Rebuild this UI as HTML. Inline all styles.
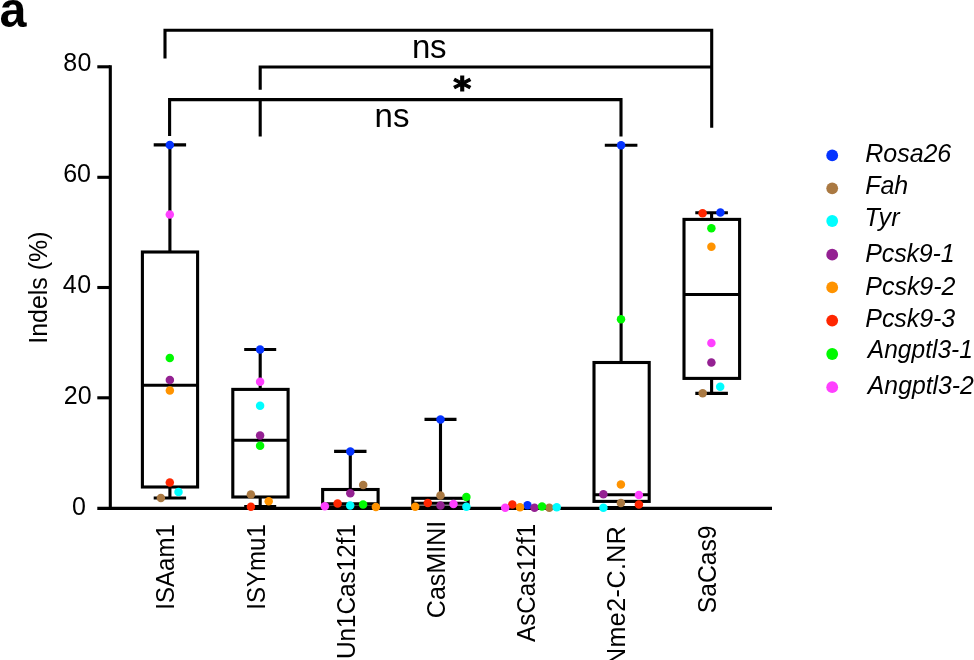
<!DOCTYPE html>
<html lang="en"><head><meta charset="utf-8"><title>Indels box plot</title>
<style>html,body{margin:0;padding:0;background:#fff;}body{width:974px;height:660px;overflow:hidden;}svg{display:block;will-change:transform;}text{font-family:"Liberation Sans",Arial,Helvetica,sans-serif;fill:#000;}.ln{stroke:#000;stroke-width:3.1;fill:none;stroke-linecap:butt;stroke-linejoin:miter;}.it{font-style:italic;}</style></head><body>
<svg width="974" height="660" viewBox="0 0 974 660">
<rect x="0" y="0" width="974" height="660" fill="#fff"/>
<text transform="translate(-0.6 26.6) scale(0.97 1)" x="0" y="0" font-size="50" font-weight="bold">a</text>
<path class="ln" d="M110.30 65.25 V508.40"/>
<path class="ln" style="stroke-width:3.2" d="M97.3 508.40 H772"/>
<path class="ln" d="M97.3 66.80 H110.30"/>
<path class="ln" d="M97.3 177.30 H110.30"/>
<path class="ln" d="M97.3 287.50 H110.30"/>
<path class="ln" d="M97.3 397.80 H110.30"/>
<path class="ln" d="M165.0 58.4 V30.3 H711.7 V127.8"/>
<path class="ln" d="M260.2 89.7 V67.0 H711.7"/>
<path class="ln" d="M260.2 99.4 V136.5"/>
<path class="ln" d="M169.6 136 V99.6 H621.0 V136.6"/>
<text transform="translate(462.2 83.6) scale(1.04 0.95)" x="0" y="16.6" font-size="33" font-weight="bold" text-anchor="middle" stroke="#000" stroke-width="1.2" style="font-family:'DejaVu Sans',sans-serif">*</text>
<path class="ln" d="M169.90 144.90 V252.00 M169.90 487.00 V498.00"/>
<path class="ln" d="M153.70 144.90 H186.10 M153.70 498.00 H186.10"/>
<rect class="ln" x="142.40" y="252.00" width="55.20" height="235.00"/>
<path class="ln" d="M142.40 385.20 H197.60"/>
<path class="ln" d="M260.20 349.50 V389.40 M260.20 497.00 V506.60"/>
<path class="ln" d="M244.20 349.50 H276.20 M244.20 506.60 H276.20"/>
<rect class="ln" x="232.80" y="389.40" width="55.30" height="107.60"/>
<path class="ln" d="M232.80 440.30 H288.10"/>
<path class="ln" d="M350.30 451.40 V489.50 M350.30 507.00 V507.50"/>
<path class="ln" d="M334.10 451.40 H366.50 M334.10 507.50 H366.50"/>
<rect class="ln" x="322.65" y="489.50" width="55.45" height="17.50"/>
<path class="ln" d="M322.65 503.90 H378.10"/>
<path class="ln" d="M440.50 419.40 V498.30 M440.50 507.00 V507.50"/>
<path class="ln" d="M424.50 419.40 H456.50 M424.50 507.50 H456.50"/>
<rect class="ln" x="412.80" y="498.30" width="55.30" height="8.70"/>
<path class="ln" d="M412.80 503.20 H468.10"/>
<path class="ln" d="M621.10 145.20 V362.50 M621.10 501.40 V507.50"/>
<path class="ln" d="M604.80 145.20 H637.40 M604.80 507.50 H637.40"/>
<rect class="ln" x="594.00" y="362.50" width="55.20" height="138.90"/>
<path class="ln" d="M594.00 494.80 H649.20"/>
<path class="ln" d="M711.60 212.70 V219.40 M711.60 378.40 V393.40"/>
<path class="ln" d="M695.30 212.70 H727.90 M695.30 393.40 H727.90"/>
<rect class="ln" x="684.00" y="219.40" width="55.60" height="159.00"/>
<path class="ln" d="M684.00 294.50 H739.60"/>
<circle cx="169.80" cy="144.90" r="4.25" fill="#0433FF"/>
<circle cx="260.10" cy="349.50" r="4.25" fill="#0433FF"/>
<circle cx="350.30" cy="451.40" r="4.25" fill="#0433FF"/>
<circle cx="440.50" cy="419.40" r="4.25" fill="#0433FF"/>
<circle cx="527.50" cy="505.20" r="4.25" fill="#0433FF"/>
<circle cx="621.10" cy="145.20" r="4.25" fill="#0433FF"/>
<circle cx="720.40" cy="212.50" r="4.25" fill="#0433FF"/>
<circle cx="160.90" cy="498.00" r="4.25" fill="#AA7942"/>
<circle cx="250.90" cy="494.50" r="4.25" fill="#AA7942"/>
<circle cx="363.20" cy="484.90" r="4.25" fill="#AA7942"/>
<circle cx="440.50" cy="495.40" r="4.25" fill="#AA7942"/>
<circle cx="549.30" cy="507.80" r="4.25" fill="#AA7942"/>
<circle cx="620.90" cy="502.90" r="4.25" fill="#AA7942"/>
<circle cx="702.70" cy="393.30" r="4.25" fill="#AA7942"/>
<circle cx="178.50" cy="491.90" r="4.25" fill="#00FDFF"/>
<circle cx="260.10" cy="405.80" r="4.25" fill="#00FDFF"/>
<circle cx="350.20" cy="505.40" r="4.25" fill="#00FDFF"/>
<circle cx="466.40" cy="506.80" r="4.25" fill="#00FDFF"/>
<circle cx="556.70" cy="507.30" r="4.25" fill="#00FDFF"/>
<circle cx="603.40" cy="507.80" r="4.25" fill="#00FDFF"/>
<circle cx="720.20" cy="386.80" r="4.25" fill="#00FDFF"/>
<circle cx="169.85" cy="380.10" r="4.25" fill="#942192"/>
<circle cx="260.10" cy="435.40" r="4.25" fill="#942192"/>
<circle cx="350.30" cy="493.30" r="4.25" fill="#942192"/>
<circle cx="440.50" cy="505.50" r="4.25" fill="#942192"/>
<circle cx="534.50" cy="507.80" r="4.25" fill="#942192"/>
<circle cx="603.40" cy="494.20" r="4.25" fill="#942192"/>
<circle cx="711.40" cy="362.50" r="4.25" fill="#942192"/>
<circle cx="169.85" cy="390.50" r="4.25" fill="#FF9300"/>
<circle cx="268.70" cy="501.20" r="4.25" fill="#FF9300"/>
<circle cx="375.90" cy="507.10" r="4.25" fill="#FF9300"/>
<circle cx="415.20" cy="506.80" r="4.25" fill="#FF9300"/>
<circle cx="520.00" cy="507.30" r="4.25" fill="#FF9300"/>
<circle cx="620.90" cy="484.60" r="4.25" fill="#FF9300"/>
<circle cx="711.40" cy="246.80" r="4.25" fill="#FF9300"/>
<circle cx="169.80" cy="482.50" r="4.25" fill="#FF2600"/>
<circle cx="250.90" cy="506.70" r="4.25" fill="#FF2600"/>
<circle cx="337.60" cy="503.60" r="4.25" fill="#FF2600"/>
<circle cx="427.80" cy="502.90" r="4.25" fill="#FF2600"/>
<circle cx="512.30" cy="504.60" r="4.25" fill="#FF2600"/>
<circle cx="638.90" cy="504.60" r="4.25" fill="#FF2600"/>
<circle cx="702.60" cy="213.20" r="4.25" fill="#FF2600"/>
<circle cx="169.80" cy="358.00" r="4.25" fill="#00F900"/>
<circle cx="260.10" cy="445.80" r="4.25" fill="#00F900"/>
<circle cx="363.10" cy="504.60" r="4.25" fill="#00F900"/>
<circle cx="466.40" cy="497.10" r="4.25" fill="#00F900"/>
<circle cx="542.00" cy="506.40" r="4.25" fill="#00F900"/>
<circle cx="621.00" cy="319.30" r="4.25" fill="#00F900"/>
<circle cx="711.40" cy="228.30" r="4.25" fill="#00F900"/>
<circle cx="169.80" cy="214.50" r="4.25" fill="#FF40FF"/>
<circle cx="260.10" cy="381.80" r="4.25" fill="#FF40FF"/>
<circle cx="324.80" cy="506.30" r="4.25" fill="#FF40FF"/>
<circle cx="453.50" cy="504.00" r="4.25" fill="#FF40FF"/>
<circle cx="505.20" cy="507.80" r="4.25" fill="#FF40FF"/>
<circle cx="638.90" cy="495.00" r="4.25" fill="#FF40FF"/>
<circle cx="711.40" cy="343.00" r="4.25" fill="#FF40FF"/>
<circle cx="832.2" cy="155.40" r="5.9" fill="#0433FF"/>
<circle cx="832.2" cy="188.30" r="5.9" fill="#AA7942"/>
<circle cx="832.2" cy="221.00" r="5.9" fill="#00FDFF"/>
<circle cx="832.2" cy="254.65" r="5.9" fill="#942192"/>
<circle cx="832.2" cy="287.40" r="5.9" fill="#FF9300"/>
<circle cx="832.2" cy="320.60" r="5.9" fill="#FF2600"/>
<circle cx="832.2" cy="354.00" r="5.9" fill="#00F900"/>
<circle cx="832.2" cy="387.20" r="5.9" fill="#FF40FF"/>
<text id="tick80" font-size="25" textLength="28.31" lengthAdjust="spacing" x="63.20" y="71.00">80</text>
<text id="tick60" font-size="25" textLength="27.81" lengthAdjust="spacing" x="63.20" y="182.00">60</text>
<text id="tick40" font-size="25" textLength="28.31" lengthAdjust="spacing" x="62.80" y="293.00">40</text>
<text id="tick20" font-size="25" textLength="28.06" lengthAdjust="spacing" x="63.70" y="404.00">20</text>
<text id="tick0" font-size="25" textLength="13.91" lengthAdjust="spacing" x="72.05" y="515.00">0</text>
<text id="ylabel" font-size="25" textLength="112.25" lengthAdjust="spacing" transform="translate(47.07 231.45) rotate(-90)" text-anchor="end">Indels (%)</text>
<text id="ns1" font-size="33" textLength="34.61" lengthAdjust="spacing" x="412.00" y="58.00">ns</text>
<text id="ns2" font-size="33" textLength="35.11" lengthAdjust="spacing" x="374.50" y="127.00">ns</text>
<text id="x_ISAam1" font-size="25" textLength="85.44" lengthAdjust="spacingAndGlyphs" transform="translate(174.05 524.20) rotate(-90)" text-anchor="end">ISAam1</text>
<text id="x_ISYmu1" font-size="25" textLength="85.44" lengthAdjust="spacingAndGlyphs" transform="translate(264.57 524.20) rotate(-90)" text-anchor="end">ISYmu1</text>
<text id="x_Un1Cas12f1" font-size="25" textLength="135.23" lengthAdjust="spacingAndGlyphs" transform="translate(354.75 523.90) rotate(-90)" text-anchor="end">Un1Cas12f1</text>
<text id="x_CasMINI" font-size="25" textLength="97.48" lengthAdjust="spacing" transform="translate(444.77 520.70) rotate(-90)" text-anchor="end">CasMINI</text>
<text id="x_AsCas12f1" font-size="25" textLength="118.05" lengthAdjust="spacingAndGlyphs" transform="translate(535.33 523.90) rotate(-90)" text-anchor="end">AsCas12f1</text>
<text id="x_Nme2-C.NR" font-size="25" textLength="139.87" lengthAdjust="spacing" transform="translate(624.93 526.10) rotate(-90)" text-anchor="end">Nme2-C.NR</text>
<text id="x_SaCas9" font-size="25" textLength="87.95" lengthAdjust="spacingAndGlyphs" transform="translate(715.87 525.40) rotate(-90)" text-anchor="end">SaCas9</text>
<text id="lg_Rosa26" font-size="25" class="it" textLength="85.92" lengthAdjust="spacing" x="865.35" y="162.00">Rosa26</text>
<text id="lg_Fah" font-size="25" class="it" textLength="42.84" lengthAdjust="spacing" x="865.35" y="194.00">Fah</text>
<text id="lg_Tyr" font-size="25" class="it" textLength="35.00" lengthAdjust="spacing" x="864.60" y="226.00">Tyr</text>
<text id="lg_Pcsk9-1" font-size="25" class="it" textLength="89.31" lengthAdjust="spacing" x="865.35" y="262.00">Pcsk9-1</text>
<text id="lg_Pcsk9-2" font-size="25" class="it" textLength="90.06" lengthAdjust="spacing" x="865.35" y="295.00">Pcsk9-2</text>
<text id="lg_Pcsk9-3" font-size="25" class="it" textLength="89.81" lengthAdjust="spacing" x="865.35" y="327.00">Pcsk9-3</text>
<text id="lg_Angptl3-1" font-size="25" class="it" textLength="105.03" lengthAdjust="spacingAndGlyphs" x="867.85" y="358.00">Angptl3-1</text>
<text id="lg_Angptl3-2" font-size="25" class="it" textLength="106.03" lengthAdjust="spacingAndGlyphs" x="867.85" y="394.00">Angptl3-2</text>
</svg></body></html>
